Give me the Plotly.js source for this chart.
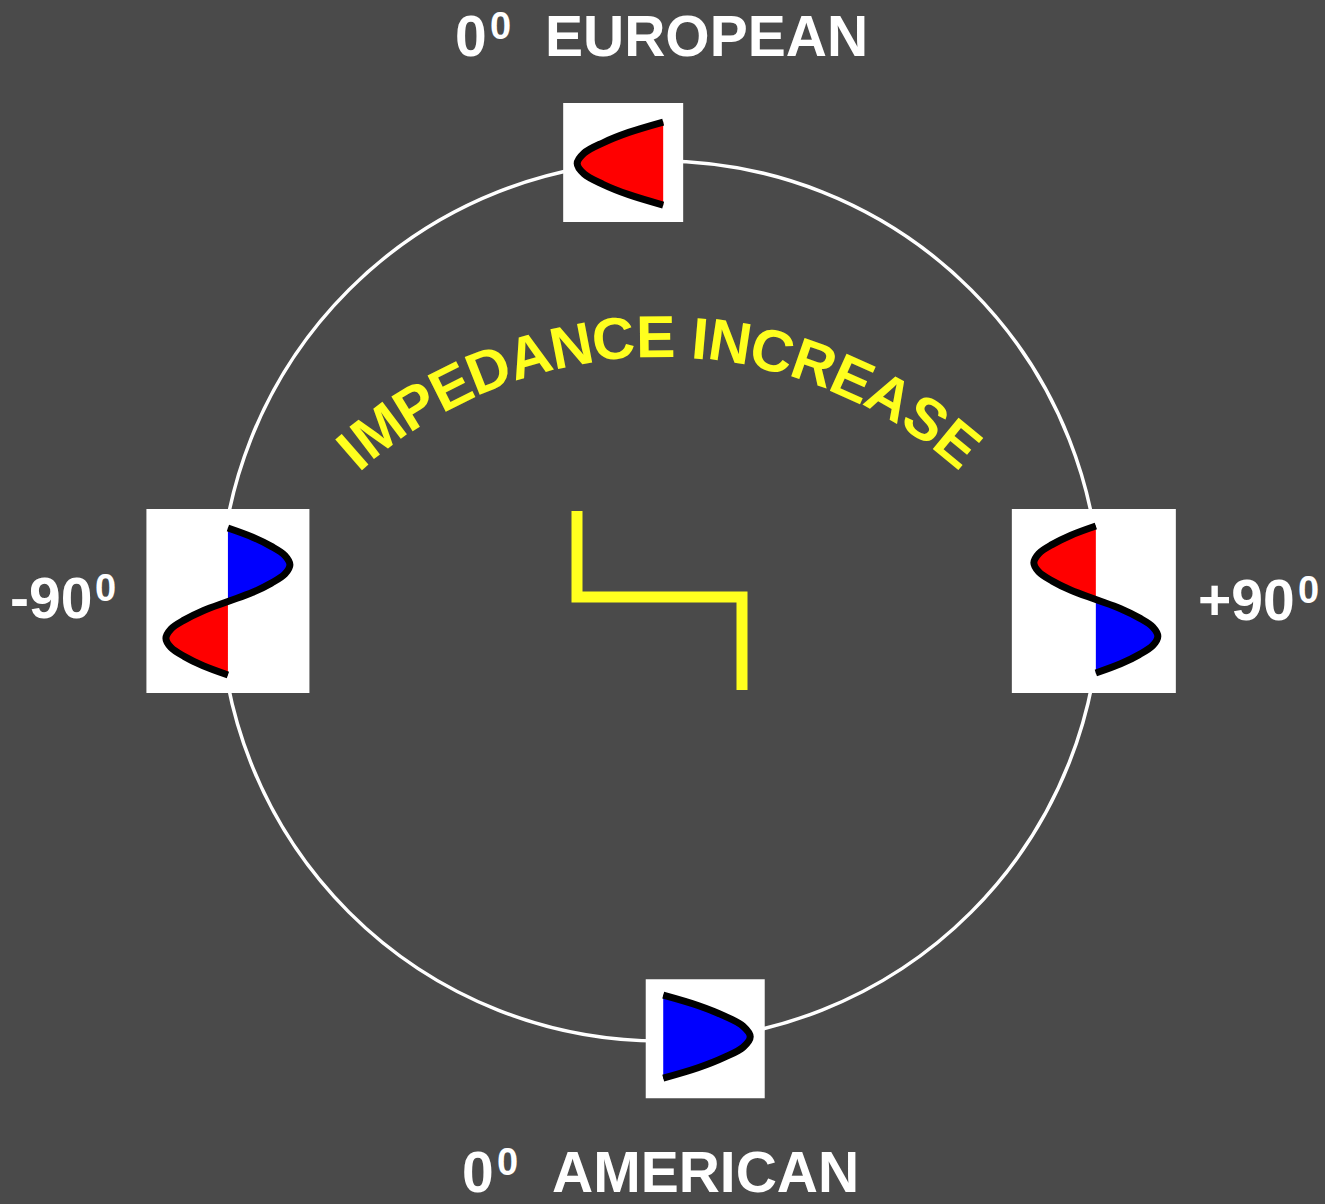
<!DOCTYPE html>
<html>
<head>
<meta charset="utf-8">
<script src="https://cdn.plot.ly/plotly-3.0.1.min.js"></script>
<style>html,body{margin:0;padding:0;background:#4a4a4a;}#chart{width:1325px;height:1204px;}</style>
</head>
<body>
<div id="chart"></div>
<script>
// ---------------- DATA ----------------
const waveletNames = ['0° EUROPEAN', '+90°', '0° AMERICAN', '-90°'];
const labelMain = ['0', '+90', '0', '-90'];
const labelSup = ['0', '0', '0', '0'];
const labelWord = ['EUROPEAN', '', 'AMERICAN', ''];
// sign of each lobe, top to bottom (+ = right / blue, - = left / red)
const lobeSigns = [[-1], [-1, 1], [1], [1, -1]];
// normalised shape of one lobe
const lobeShape = [0, 0.4, 0.7, 0.92, 1, 0.92, 0.7, 0.4, 0];
const arcText = 'IMPEDANCE INCREASE';
// impedance step: level (0 low, 1 high) and relative depth
const impedanceLevel = [0, 0, 1, 1];
const impedanceDepth = [0, 0.48, 0.48, 1];

// ---------------- GEOMETRY / STYLE ----------------
const W = 1325, H = 1204;
const BG = '#4a4a4a';
const YELLOW = '#ffff1e';
const FONT = 'Liberation Sans, Arial, sans-serif';
const ring = {cx: 660, cy: 601, r: 440};
// per wavelet box: angle on ring (deg clockwise from top), radial factor, box size,
// baseline offset, amplitude, lobe length
const boxGeom = [
  {ang: -4.8,  rf: 1.0,   w: 120, h: 119, dx: 40,  dy: 1,    amp: 86, len: 83},
  {ang: 90,    rf: 0.986, w: 164, h: 184, dx: 2,   dy: -1.5, amp: 62, len: 73.5},
  {ang: 174.1, rf: 1.0,   w: 119, h: 119, dx: -42, dy: -2,   amp: 87, len: 83},
  {ang: -90,   rf: 0.982, w: 163, h: 184, dx: 0,   dy: 0.5,  amp: 62, len: 73.5}
];
// label layout: right edge of main text, text middle, left edge of word
const labelGeom = [
  {xm: 488.5, y: 35.5, xw: 542.5},
  {xm: 1297, y: 600},
  {xm: 495.5, y: 1172, xw: 549.5},
  {xm: 94, y: 598}
];
const labelSize = 57, supSize = 38, supRise = 10;
const arc = {cx: 660, cy: 805, r: 468, a0: -41.1, a1: 39.4, size: 59};
const step = {x0: 577, x1: 742, y0: 511, y1: 690, width: 11};

// ---------------- BUILD ----------------
const shapes = [];
const traces = [];
const annotations = [];

shapes.push({type: 'circle', xref: 'x', yref: 'y', layer: 'below',
  x0: ring.cx - ring.r, x1: ring.cx + ring.r, y0: ring.cy - ring.r, y1: ring.cy + ring.r,
  line: {color: 'white', width: 3.5}, fillcolor: 'rgba(0,0,0,0)'});

boxGeom.forEach((g, i) => {
  const a = g.ang * Math.PI / 180;
  const bx = ring.cx + ring.r * g.rf * Math.sin(a);
  const by = ring.cy - ring.r * g.rf * Math.cos(a);
  shapes.push({type: 'rect', xref: 'x', yref: 'y', layer: 'below',
    x0: bx - g.w / 2, x1: bx + g.w / 2, y0: by - g.h / 2, y1: by + g.h / 2,
    line: {width: 0}, fillcolor: 'white'});
  const base = bx + g.dx;
  const signs = lobeSigns[i];
  const total = g.len * signs.length;
  const top = by + g.dy - total / 2;
  const n = lobeShape.length - 1;
  const lx = [], ly = [];
  signs.forEach((s, k) => {
    const fx = [], fy = [];
    lobeShape.forEach((v, j) => {
      const x = base + s * g.amp * v;
      const y = top + k * g.len + g.len * j / n;
      fx.push(x); fy.push(y);
      if (!(k > 0 && j === 0)) { lx.push(x); ly.push(y); }
    });
    traces.push({type: 'scatter', mode: 'lines', x: fx, y: fy, fill: 'toself',
      fillcolor: s > 0 ? '#0000ff' : '#ff0000',
      line: {color: 'black', width: 1, shape: 'spline'}, hoverinfo: 'skip', showlegend: false,
      name: waveletNames[i]});
  });
  traces.push({type: 'scatter', mode: 'lines', x: lx, y: ly,
    line: {color: 'black', width: 7, shape: 'spline'}, hoverinfo: 'skip', showlegend: false,
    name: waveletNames[i]});

  // labels: main part, superscript degree, word
  const L = labelGeom[i];
  const lf = {family: FONT, size: labelSize, color: 'white', weight: 'bold'};
  annotations.push({xref: 'x', yref: 'y', x: L.xm, y: L.y, text: labelMain[i], showarrow: false,
    xanchor: 'right', yanchor: 'middle', font: lf});
  annotations.push({xref: 'x', yref: 'y', x: L.xm - 1, y: L.y - supRise, text: labelSup[i], showarrow: false,
    xanchor: 'left', yanchor: 'middle', font: {family: FONT, size: supSize, color: 'white', weight: 'bold'}});
  if (labelWord[i]) {
    annotations.push({xref: 'x', yref: 'y', x: L.xw, y: L.y, text: labelWord[i], showarrow: false,
      xanchor: 'left', yanchor: 'middle', font: lf});
  }
});

// impedance step
traces.push({type: 'scatter', mode: 'lines',
  x: impedanceLevel.map(v => step.x0 + v * (step.x1 - step.x0)),
  y: impedanceDepth.map(d => step.y0 + d * (step.y1 - step.y0)),
  line: {color: YELLOW, width: step.width}, hoverinfo: 'skip', showlegend: false});

// curved text
const cw = {I: .278, M: .833, P: .667, E: .667, D: .722, A: .722, N: .722, C: .722, R: .722, S: .667, ' ': .278};
const chars = arcText.split('');
const centers = [];
let acc = 0;
chars.forEach(c => { const w = cw[c] || .667; centers.push(acc + w / 2); acc += w; });
const c0 = centers[0], c1 = centers[centers.length - 1];
chars.forEach((c, k) => {
  if (c === ' ') return;
  const t = (centers[k] - c0) / (c1 - c0);
  const angDeg = arc.a0 + t * (arc.a1 - arc.a0);
  const a = angDeg * Math.PI / 180;
  annotations.push({xref: 'x', yref: 'y',
    x: arc.cx + arc.r * Math.sin(a), y: arc.cy - arc.r * Math.cos(a),
    text: c, showarrow: false, xanchor: 'center', yanchor: 'middle', textangle: angDeg,
    font: {family: FONT, size: arc.size, color: YELLOW, weight: 'bold'}});
});

const layout = {
  width: W, height: H,
  margin: {l: 0, r: 0, t: 0, b: 0, pad: 0},
  paper_bgcolor: BG, plot_bgcolor: BG,
  xaxis: {range: [0, W], visible: false, fixedrange: true},
  yaxis: {range: [H, 0], visible: false, fixedrange: true},
  shapes: shapes, annotations: annotations, showlegend: false
};
Plotly.newPlot('chart', traces, layout, {staticPlot: true, displayModeBar: false});
</script>
</body>
</html>
